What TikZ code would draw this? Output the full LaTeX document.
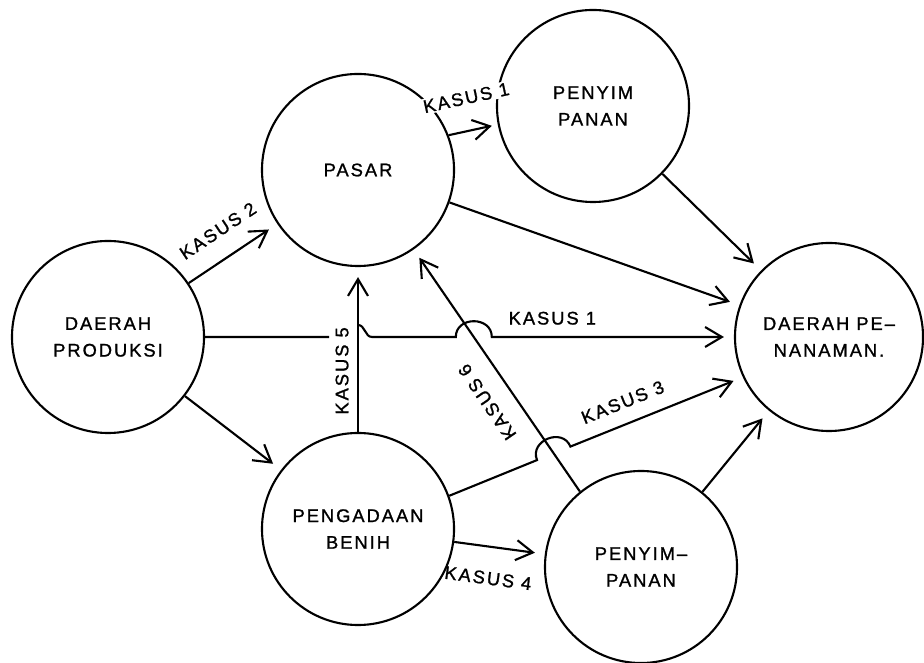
\documentclass[tikz,border=0pt]{standalone}
\usepackage{fontspec}
\setmainfont[LetterSpace=11,FakeBold=1.2]{Liberation Sans}
\usetikzlibrary{arrows.meta,calc}

\begin{document}
\begin{tikzpicture}[x=0.025cm,y=0.025cm,
  >={Straight Barb[length=0.42cm,width=0.5cm]},
  every node/.style={font=\fontsize{13}{19}\selectfont},
  place/.style={circle,draw,line width=1.5pt,minimum size=4.8cm,inner sep=0pt,align=center},
  arr/.style={->,line width=1.5pt,shorten >=0.25cm},
  lbl/.style={inner sep=1pt}]

  \useasboundingbox (0,0) rectangle (924,662);

  % Circles
  \node[place] (produksi) at (108,325) {DAERAH\\PRODUKSI};
  \node[place] (pasar) at (358,492) {PASAR};
  \node[place] (penyimA) at (593,556) {PENYIM\\PANAN};
  \node[place,minimum size=4.7cm] (penanaman) at (829,325) {DAERAH PE--\\NANAMAN.};
  \node[place] (benih) at (358,133) {PENGADAAN\\BENIH};
  \node[place] (penyimB) at (641,95) {PENYIM--\\PANAN};

  % crossings with the KASUS 6 line
  \coordinate (c6a) at (473.8,325);
  \coordinate (c6b) at (553.7,208.7);

  % From DAERAH PRODUKSI
  \draw[arr] (produksi) -- node[lbl,sloped,above=13pt] {KASUS 2} (pasar);
  \draw[arr] (produksi) -- (benih);
  \draw[arr] (produksi.east) -- (329,325)
    (358,337) to[out=0,in=180] (372,325)
    -- ($(c6a)+(-18,0)$) to[out=90,in=90,looseness=1.5] ($(c6a)+(18,0)$)
    -- node[lbl,pos=0.25,above=7pt] {KASUS 1} (penanaman.west);

  % From PASAR
  \draw[arr,shorten >=0.15cm] (pasar.21) -- node[lbl,sloped,above=17pt,fill=white] {KASUS 1} (penyimA.191);
  \draw[arr] (pasar) -- (penanaman);
  \draw[arr] (penyimA) -- (penanaman);

  % From PENGADAAN BENIH
  \draw[arr] (benih) -- node[lbl,sloped,pos=0.37,above=5pt] {KASUS 5} (pasar);
  \draw[arr] (benih.20) -- ($(c6b)!0.45cm!(benih.20)$)
    to[out=90,in=90,relative,looseness=1.5] ($(c6b)!0.45cm!(penanaman.205)$)
    -- node[lbl,sloped,pos=0.35,above=9pt] {KASUS 3} (penanaman.205);
  \draw[arr] (benih) -- node[lbl,sloped,pos=0.42,below=16pt] {KASUS 4} (penyimB);

  % From PENYIMPANAN (bottom)
  \draw[arr] (penyimB.129) -- node[lbl,sloped,allow upside down,pos=0.43,above=12pt] {KASUS 6} (pasar.305);
  \draw[arr] (penyimB) -- (penanaman);

\end{tikzpicture}
\end{document}
